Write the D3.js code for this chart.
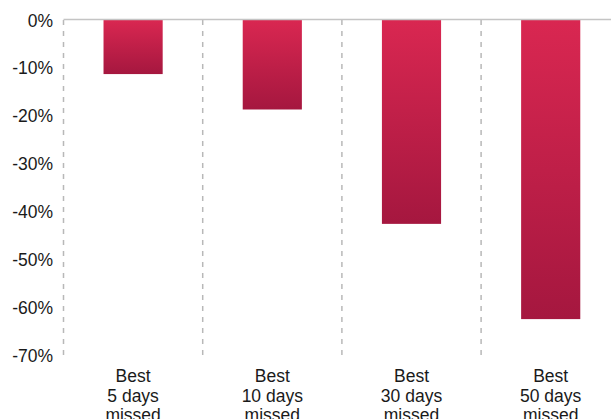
<!DOCTYPE html>
<html>
<head>
<meta charset="utf-8">
<script src="https://cdn.jsdelivr.net/npm/d3@7"></script>
<style>
  html, body { margin: 0; padding: 0; background: #fff; overflow: hidden; }
  svg { display: block; }
</style>
</head>
<body>
<svg id="chart" width="611" height="419"></svg>
<script>
const categories = [["Best", "5 days", "missed"], ["Best", "10 days", "missed"], ["Best", "30 days", "missed"], ["Best", "50 days", "missed"]];
const values = [-11.3, -18.7, -42.6, -62.5];
const yTicks = [0, -10, -20, -30, -40, -50, -60, -70];

const svg = d3.select("#chart");
const font = "Liberation Sans, Arial, sans-serif";

const ids = categories.map((c, i) => i);
const x = d3.scaleBand().domain(ids).range([63.5, 620.3]).padding(0);
const y = d3.scaleLinear().domain([0, -70]).range([20, 355]);
const barFrac = 0.425;

const defs = svg.append("defs");
const grad = defs.append("linearGradient").attr("id", "barGrad")
  .attr("x1", 0).attr("y1", 0).attr("x2", 0).attr("y2", 1);
grad.append("stop").attr("offset", "0%").attr("stop-color", "#d92751");
grad.append("stop").attr("offset", "100%").attr("stop-color", "#a5173f");

// dashed vertical separators
svg.append("g").selectAll("line").data(ids).join("line")
  .attr("x1", d => x(d)).attr("x2", d => x(d))
  .attr("y1", y(0)).attr("y2", y(-70))
  .attr("stroke", "#b8b8b8").attr("stroke-width", 1.5)
  .attr("stroke-dasharray", "5,6");

// bars
svg.append("g").selectAll("rect").data(values).join("rect")
  .attr("x", (d, i) => x(i) + x.bandwidth() * (1 - barFrac) / 2)
  .attr("width", x.bandwidth() * barFrac)
  .attr("y", y(0))
  .attr("height", d => y(d) - y(0))
  .attr("fill", "url(#barGrad)");

// zero line
svg.append("line")
  .attr("x1", x.range()[0]).attr("x2", 611)
  .attr("y1", y(0) - 0.5).attr("y2", y(0) - 0.5)
  .attr("stroke", "#c4c4c4").attr("stroke-width", 1.5);

// y axis labels
const yAxis = d3.axisLeft(y).tickValues(yTicks).tickSize(0).tickPadding(0)
  .tickFormat(d => d + "%");
const ya = svg.append("g").attr("transform", "translate(53,0)").call(yAxis);
ya.select(".domain").remove();
ya.selectAll("text").attr("font-family", font).attr("font-size", 17.5)
  .attr("fill", "#1a1a1a").attr("dy", "0.35em");

// x category labels
const xl = svg.append("g").selectAll("text").data(categories).join("text")
  .attr("x", (d, i) => x(i) + x.bandwidth() / 2)
  .attr("y", 382)
  .attr("text-anchor", "middle")
  .attr("font-family", font).attr("font-size", 17.5).attr("fill", "#1a1a1a");
xl.each(function(d, i) {
  const t = d3.select(this);
  d.forEach((line, j) => {
    t.append("tspan").attr("x", x(i) + x.bandwidth() / 2)
      .attr("dy", j === 0 ? 0 : 19.5).text(line);
  });
});
</script>
</body>
</html>
